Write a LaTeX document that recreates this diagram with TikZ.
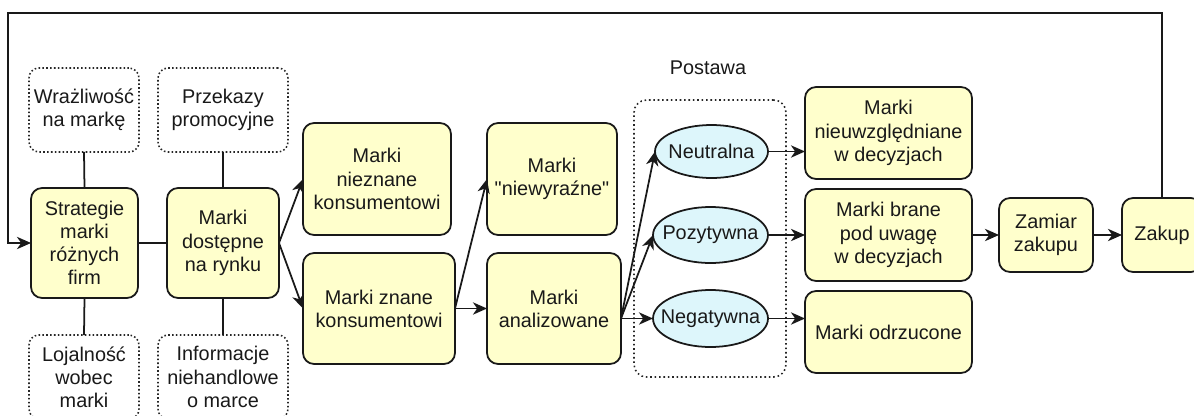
\documentclass[tikz,border=0pt]{standalone}
\usepackage{fontspec}
\setmainfont{Liberation Sans}[Ligatures=TeXOff]
\usetikzlibrary{arrows.meta,shapes.geometric}

\definecolor{boxfill}{HTML}{FFFFCC}
\definecolor{ellfill}{HTML}{DDF6FB}

\tikzset{
  every node/.style={font=\fontsize{11.3}{13.2}\selectfont, text=black!90, inner sep=0pt, outer sep=0pt, align=center},
  conn/.style={line width=1pt, draw=black!90},
  arr/.style={conn, -{Stealth[length=8pt,width=7pt,inset=2.4pt]}},
  stage/.style={draw=black!90, line width=1pt, fill=boxfill, rounded corners=0.22cm},
  factor/.style={draw=black!85, line width=0.9pt, dash pattern=on 0.9pt off 1.3pt, rounded corners=0.2cm},
  attitude/.style={ellipse, draw=black!90, line width=1pt, fill=ellfill},
  group/.style={draw=black!85, line width=0.9pt, dash pattern=on 0.9pt off 1.6pt, rounded corners=0.25cm}
}

\begin{document}
\begin{tikzpicture}[x=0.02cm, y=-0.02cm]
  \useasboundingbox (0,0) rectangle (1194,416);
  \clip (0,0) rectangle (1194,416);

  % attitude group
  \node[group, minimum width=3.04cm, minimum height=5.54cm] (grp) at (710,238.5) {};
  \node (postawa) at (708,68) {Postawa};

  % influencing factors
  \node[factor, minimum width=2.2cm, minimum height=1.68cm] (wraz) at (84,110) {Wrażliwość\\na markę};
  \node[factor, minimum width=2.6cm, minimum height=1.68cm] (przek) at (223,110) {Przekazy\\promocyjne};
  \node[factor, minimum width=2.2cm, minimum height=1.68cm] (loj) at (84,377) {Lojalność\\wobec\\marki};
  \node[factor, minimum width=2.6cm, minimum height=1.68cm] (info) at (223,377) {Informacje\\niehandlowe\\o marce};

  % stages
  \node[stage, minimum width=2.14cm, minimum height=2.2cm] (strat) at (84.5,243) {Strategie\\marki\\różnych\\firm};
  \node[stage, minimum width=2.24cm, minimum height=2.2cm] (dost) at (223,243) {Marki\\dostępne\\na rynku};
  \node[stage, minimum width=2.96cm, minimum height=2.24cm] (niez) at (377,179) {Marki\\nieznane\\konsumentowi};
  \node[stage, minimum width=3.04cm, minimum height=2.22cm] (znane) at (379,308.5) {Marki znane\\konsumentowi};
  \node[stage, minimum width=2.6cm, minimum height=2.24cm] (niewyr) at (552,179) {Marki\\"niewyraźne"};
  \node[stage, minimum width=2.68cm, minimum height=2.22cm] (anal) at (554,308.5) {Marki\\analizowane};

  \node[attitude, minimum width=2.26cm, minimum height=1.06cm] (neut) at (711.5,151.5) {\makebox[0pt]{Neutralna}};
  \node[attitude, minimum width=2.3cm, minimum height=1.12cm] (poz) at (710.5,235) {\makebox[0pt]{Pozytywna}};
  \node[attitude, minimum width=2.3cm, minimum height=1.14cm] (neg) at (710.5,318.5) {\makebox[0pt]{Negatywna}};

  \node[stage, minimum width=3.34cm, minimum height=1.84cm] (nieuw) at (888.5,133) {Marki\\nieuwzględniane\\w decyzjach};
  \node[stage, minimum width=3.34cm, minimum height=1.84cm] (brane) at (888.5,235) {Marki brane\\pod uwagę\\w decyzjach};
  \node[stage, minimum width=3.34cm, minimum height=1.64cm] (odrz) at (888.5,332) {Marki odrzucone};
  \node[stage, minimum width=1.88cm, minimum height=1.48cm] (zamiar) at (1046,235) {Zamiar\\zakupu};
  \node[stage, minimum width=1.6cm, minimum height=1.48cm] (zakup) at (1162,235) {Zakup};

  % factor links
  \draw[conn] (wraz.south) -- (strat.north);
  \draw[conn] (przek.south) -- (dost.north);
  \draw[conn] (strat.south) -- (loj.north);
  \draw[conn] (dost.south) -- (info.north);
  \draw[conn] (strat.east) -- (dost.west);

  % flow
  \draw[arr] (dost.east) -- (niez.west);
  \draw[arr] (dost.east) -- (znane.west);
  \draw[arr] (znane.east) -- (niewyr.west);
  \draw[arr] (znane.east) -- (anal.west);

  \coordinate (aout) at (anal.east |- neg.west);
  \draw[arr] (aout) -- (neut.west);
  \draw[arr] (aout) -- (poz.west);
  \draw[arr] (aout) -- (neg.west);

  \draw[arr] (neut.east) -- (neut.east -| nieuw.west);
  \draw[arr] (poz.east) -- (brane.west);
  \draw[arr] (neg.east) -- (neg.east -| odrz.west);

  \draw[arr] (brane.east) -- (zamiar.west);
  \draw[arr] (zamiar.east) -- (zakup.west);

  % feedback loop
  \coordinate (fb) at (8,13);
  \draw[arr] (zakup.north) |- (fb) |- (strat.west);
\end{tikzpicture}
\end{document}
